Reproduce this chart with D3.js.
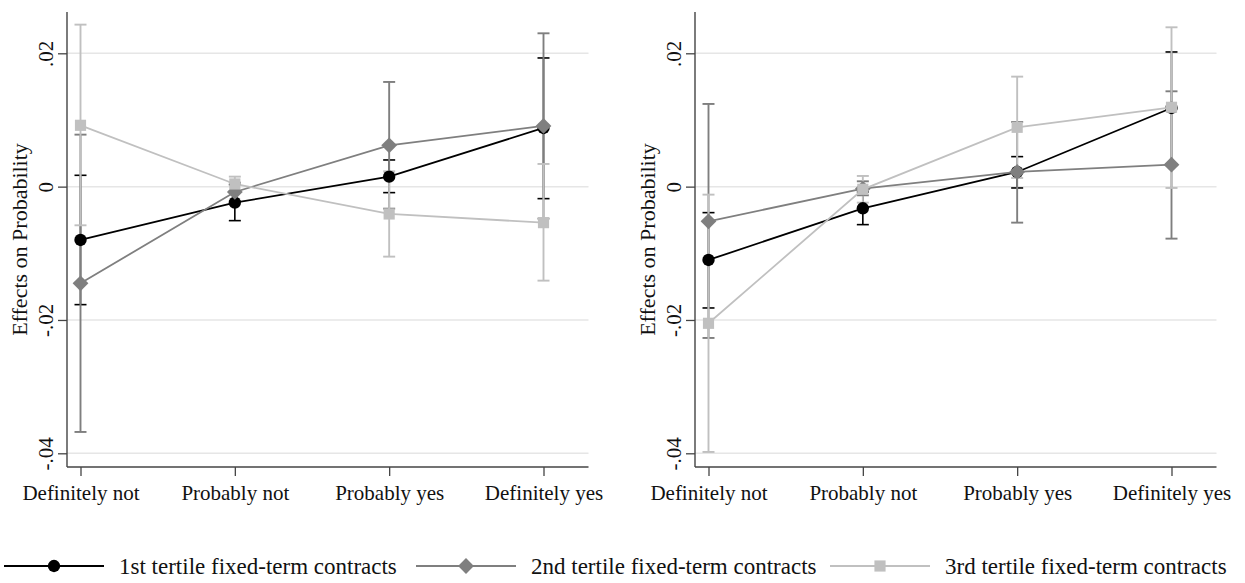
<!DOCTYPE html>
<html>
<head>
<meta charset="utf-8">
<script src="https://cdn.jsdelivr.net/npm/d3@7"></script>
<style>
  html, body { margin: 0; padding: 0; background: #fff; }
  svg { display: block; }
</style>
</head>
<body>
<svg id="chart" width="1245" height="583"></svg>
<script>
// Response categories on the x axis
const categories = ["Definitely not", "Probably not", "Probably yes", "Definitely yes"];

// Y axis ticks and their labels
const yTickValues = [-0.04, -0.02, 0, 0.02];
const yTickLabels = ["-.04", "-.02", "0", ".02"];

// Series names (legend)
const seriesNames = [
  "1st tertile fixed-term contracts",
  "2nd tertile fixed-term contracts",
  "3rd tertile fixed-term contracts"
];

// Left panel: point estimates and confidence bounds
const left1 = [-0.0080, -0.0024, 0.0015, 0.0088];
const left1Lo = [-0.0177, -0.0051, -0.0009, -0.0018];
const left1Hi = [0.0017, 0.0003, 0.0040, 0.0193];
const left2 = [-0.0145, -0.0008, 0.0062, 0.0091];
const left2Lo = [-0.0368, -0.0022, -0.0033, -0.0048];
const left2Hi = [0.0078, 0.0006, 0.0157, 0.0230];
const left3 = [0.0092, 0.0004, -0.0041, -0.0054];
const left3Lo = [-0.0058, -0.0007, -0.0105, -0.0141];
const left3Hi = [0.0243, 0.0015, 0.0023, 0.0034];

// Right panel: point estimates and confidence bounds
const right1 = [-0.0110, -0.00325, 0.0022, 0.0118];
const right1Lo = [-0.0182, -0.0057, -0.0002, 0.0034];
const right1Hi = [-0.0039, -0.0008, 0.0045, 0.0202];
const right2 = [-0.0052, -0.0003, 0.0022, 0.0033];
const right2Lo = [-0.0227, -0.0013, -0.0054, -0.0078];
const right2Hi = [0.0124, 0.0008, 0.0097, 0.0143];
const right3 = [-0.0205, -0.0004, 0.0089, 0.0119];
const right3Lo = [-0.0398, -0.0024, 0.0013, -0.0002];
const right3Hi = [-0.0012, 0.0016, 0.0165, 0.0239];

const FONT = "'Liberation Serif', 'DejaVu Serif', serif";
const colors = ["#000000", "#7f7f7f", "#c0c0c0"];
const symbols = [d3.symbolCircle, d3.symbolSquare, d3.symbolSquare];
const symbolSizes = [120, 125, 125];
const symbolRotate = [0, 45, 0];

const svg = d3.select("#chart");
svg.append("rect").attr("width", 1245).attr("height", 583).attr("fill", "#fff");

const plotTop = 12, plotBottom = 467, plotWidth = 521.5;
const y = d3.scaleLinear().domain([-0.04, 0.02]).range([453.3, 53.3]);

function makeSeries(est, lo, hi) {
  return categories.map((c, i) => ({ cat: c, v: est[i], lo: lo[i], hi: hi[i] }));
}

function drawPanel(x0, series) {
  const g = svg.append("g");
  const x = d3.scalePoint().domain(categories).range([x0 + 13.5, x0 + 476.5]);

  // horizontal grid
  g.append("g").selectAll("line").data(yTickValues).join("line")
    .attr("x1", x0).attr("x2", x0 + plotWidth)
    .attr("y1", d => y(d)).attr("y2", d => y(d))
    .attr("stroke", "#e6e6e6").attr("stroke-width", 1.5);

  // y axis ticks + rotated labels
  const yAxis = d3.axisLeft(y).tickValues(yTickValues)
    .tickFormat((d, i) => yTickLabels[i]).tickSize(9).tickSizeOuter(0);
  const ya = g.append("g").attr("transform", `translate(${x0},0)`).call(yAxis)
    .attr("font-family", FONT).attr("font-size", 21);
  ya.select(".domain").remove();
  ya.selectAll(".tick line").attr("stroke", "#444").attr("stroke-width", 1.3);
  ya.selectAll(".tick text")
    .attr("transform", "rotate(-90)")
    .attr("x", 0).attr("y", -14.5).attr("dy", 0)
    .attr("text-anchor", "middle")
    .attr("fill", "#111");

  // x axis ticks + labels
  const xAxis = d3.axisBottom(x).tickSize(9).tickSizeOuter(0);
  const xa = g.append("g").attr("transform", `translate(0,${plotBottom})`).call(xAxis)
    .attr("font-family", FONT).attr("font-size", 21);
  xa.select(".domain").remove();
  xa.selectAll(".tick line").attr("stroke", "#444").attr("stroke-width", 1.3);
  xa.selectAll(".tick text")
    .attr("y", 33).attr("dy", 0)
    .attr("fill", "#111");

  // axis lines
  g.append("line").attr("x1", x0).attr("x2", x0).attr("y1", plotTop).attr("y2", plotBottom)
    .attr("stroke", "#444").attr("stroke-width", 1.4);
  g.append("line").attr("x1", x0).attr("x2", x0 + plotWidth).attr("y1", plotBottom).attr("y2", plotBottom)
    .attr("stroke", "#444").attr("stroke-width", 1.4);

  // y title
  g.append("text")
    .attr("transform", `translate(${x0 - 40.5},${(plotTop + plotBottom) / 2}) rotate(-90)`)
    .attr("text-anchor", "middle")
    .attr("font-family", FONT).attr("font-size", 22).attr("fill", "#111")
    .text("Effects on Probability");

  // confidence intervals
  series.forEach((s, k) => {
    const cg = g.append("g").attr("stroke", colors[k]).attr("stroke-width", k === 0 ? 1.6 : 1.9);
    cg.selectAll("line.v").data(s).join("line").attr("class", "v")
      .attr("x1", d => x(d.cat)).attr("x2", d => x(d.cat))
      .attr("y1", d => y(d.lo)).attr("y2", d => y(d.hi));
    cg.selectAll("line.lo").data(s).join("line").attr("class", "lo")
      .attr("x1", d => x(d.cat) - 6).attr("x2", d => x(d.cat) + 6)
      .attr("y1", d => y(d.lo)).attr("y2", d => y(d.lo));
    cg.selectAll("line.hi").data(s).join("line").attr("class", "hi")
      .attr("x1", d => x(d.cat) - 6).attr("x2", d => x(d.cat) + 6)
      .attr("y1", d => y(d.hi)).attr("y2", d => y(d.hi));
  });

  // connected lines and markers
  const line = d3.line().x(d => x(d.cat)).y(d => y(d.v));
  series.forEach((s, k) => {
    g.append("path").datum(s).attr("d", line)
      .attr("fill", "none").attr("stroke", colors[k]).attr("stroke-width", 1.8);
    g.append("g").selectAll("path").data(s).join("path")
      .attr("d", d3.symbol().type(symbols[k]).size(symbolSizes[k]))
      .attr("transform", d => `translate(${x(d.cat)},${y(d.v)}) rotate(${symbolRotate[k]})`)
      .attr("fill", colors[k]);
  });
}

drawPanel(67, [
  makeSeries(left1, left1Lo, left1Hi),
  makeSeries(left2, left2Lo, left2Hi),
  makeSeries(left3, left3Lo, left3Hi)
]);
drawPanel(695, [
  makeSeries(right1, right1Lo, right1Hi),
  makeSeries(right2, right2Lo, right2Hi),
  makeSeries(right3, right3Lo, right3Hi)
]);

// legend
const legendY = 566;
const legendX = [4, 416, 830];
const lg = svg.append("g");
seriesNames.forEach((name, k) => {
  const lx = legendX[k];
  lg.append("line").attr("x1", lx).attr("x2", lx + 100).attr("y1", legendY).attr("y2", legendY)
    .attr("stroke", colors[k]).attr("stroke-width", 2);
  lg.append("path")
    .attr("d", d3.symbol().type(symbols[k]).size(symbolSizes[k])())
    .attr("transform", `translate(${lx + 50},${legendY}) rotate(${symbolRotate[k]})`)
    .attr("fill", colors[k]);
  lg.append("text").attr("x", lx + 115).attr("y", legendY + 7.5)
    .attr("font-family", FONT).attr("font-size", 23).attr("fill", "#111")
    .text(name);
});
</script>
</body>
</html>
